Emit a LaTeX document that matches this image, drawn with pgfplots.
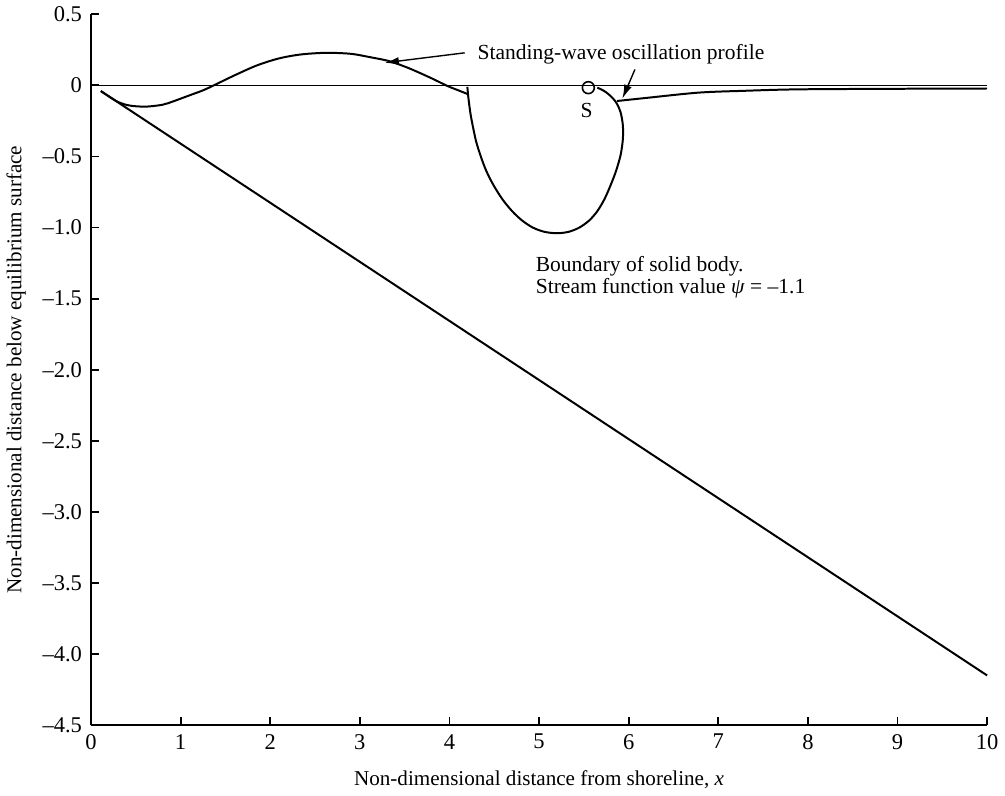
\documentclass[border=0pt]{standalone}
\usepackage{fontspec}
\setmainfont{Liberation Serif}
\usepackage{pgfplots}
\pgfplotsset{compat=1.18}
\usetikzlibrary{arrows.meta}
\begin{document}
\begin{tikzpicture}
\begin{axis}[
  scale only axis, width=450pt, height=357pt,
  xmin=0, xmax=10, ymin=-4.5, ymax=0.5,
  axis x line=bottom, axis y line=left,
  axis line style={-, line width=1pt},
  tick align=inside, major tick length=4pt,
  tick style={line width=0.9pt, black},
  xtick={0,1,2,3,4,5,6,7,8,9,10},
  xticklabels={0,1,2,3,4,5,6,7,8,9,10},
  ytick={-4.5,-4,-3.5,-3,-2.5,-2,-1.5,-1,-0.5,0,0.5},
  yticklabels={–4.5,–4.0,–3.5,–3.0,–2.5,–2.0,–1.5,–1.0,–0.5,0,0.5},
  ticklabel style={font=\fontsize{11.3}{13}\selectfont},
  xticklabel style={yshift=-1pt},
  yticklabel style={xshift=-1pt},
  xlabel={Non-dimensional distance from shoreline, \textit{x}},
  ylabel={Non-dimensional distance below equilibrium surface},
  label style={font=\fontsize{10.6}{12}\selectfont},
  xlabel style={at={([yshift=-30.5pt]axis description cs:0.5,0)}, anchor=base},
  ylabel style={at={([xshift=-37.5pt]axis description cs:0,0.5)}, anchor=center},
  clip=false,
]
% still water line
\addplot[black, line width=0.6pt] coordinates {(0,0) (10,0)};
% beach
\addplot[black, line width=1pt] coordinates {(0.11,-0.04) (10,-4.15)};
% standing-wave profile, left part
\addplot[black, line width=1pt, smooth] coordinates {
(0.11,-0.04) (0.2,-0.078) (0.3,-0.116) (0.4,-0.138) (0.5,-0.147) (0.63,-0.149)
(0.8,-0.136) (0.92,-0.112) (1.1,-0.07) (1.25,-0.035) (1.37,0) (1.6,0.07)
(1.85,0.14) (2.1,0.19) (2.35,0.218) (2.63,0.229) (2.9,0.222) (3.1,0.2)
(3.33,0.17) (3.55,0.12) (3.8,0.05) (3.98,-0.005) (4.1,-0.035) (4.21,-0.063)};
% standing-wave profile, right part
\addplot[black, line width=1pt, smooth] coordinates {
(5.87,-0.11) (6.2,-0.088) (6.78,-0.051) (7.3,-0.038) (7.89,-0.028) (9,-0.024) (10,-0.022)};
% body boundary
\addplot[black, line width=1pt, smooth, tension=0.5] coordinates {
(4.20,-0.01) (4.21,-0.08) (4.235,-0.2) (4.265,-0.3) (4.30,-0.4) (4.35,-0.5)
(4.41,-0.6) (4.49,-0.7) (4.59,-0.80) (4.70,-0.885) (4.81,-0.95) (4.93,-1.0)
(5.06,-1.03) (5.2,-1.04) (5.33,-1.03) (5.45,-1.0) (5.56,-0.95) (5.65,-0.885)
(5.73,-0.80) (5.80,-0.70) (5.86,-0.6) (5.91,-0.49) (5.935,-0.38) (5.935,-0.28)
(5.91,-0.19) (5.86,-0.12) (5.79,-0.07) (5.72,-0.037) (5.65,-0.016)};
% stagnation point S
\addplot[black, only marks, mark=o, mark size=3pt, mark options={line width=0.8pt}] coordinates {(5.55,-0.016)};
% annotations
\draw[line width=0.7pt, -{Latex[length=7pt,width=4pt]}] (axis cs:4.17,0.229) -- (axis cs:3.28,0.159);
\draw[line width=0.7pt, -{Latex[length=7pt,width=4pt]}] (axis cs:6.07,0.112) -- (axis cs:5.93,-0.093);
\node[anchor=west, inner sep=0pt, font=\fontsize{10.8}{12}\selectfont] at (axis cs:4.31,0.222) {Standing-wave oscillation profile};
\node[inner sep=0pt, font=\fontsize{10.8}{12}\selectfont] at (axis cs:5.53,-0.18) {S};
\node[anchor=west, inner sep=0pt, font=\fontsize{10.8}{12}\selectfont] at (axis cs:4.96,-1.275) {Boundary of solid body.};
\node[anchor=west, inner sep=0pt, font=\fontsize{10.8}{12}\selectfont] at (axis cs:4.96,-1.43) {Stream function value \textit{ψ} = –1.1};
\end{axis}
\path (current axis.south west) ++(-45pt,-34pt) rectangle ([shift={(7.5pt,7pt)}]current axis.north east);
\end{tikzpicture}
\end{document}
